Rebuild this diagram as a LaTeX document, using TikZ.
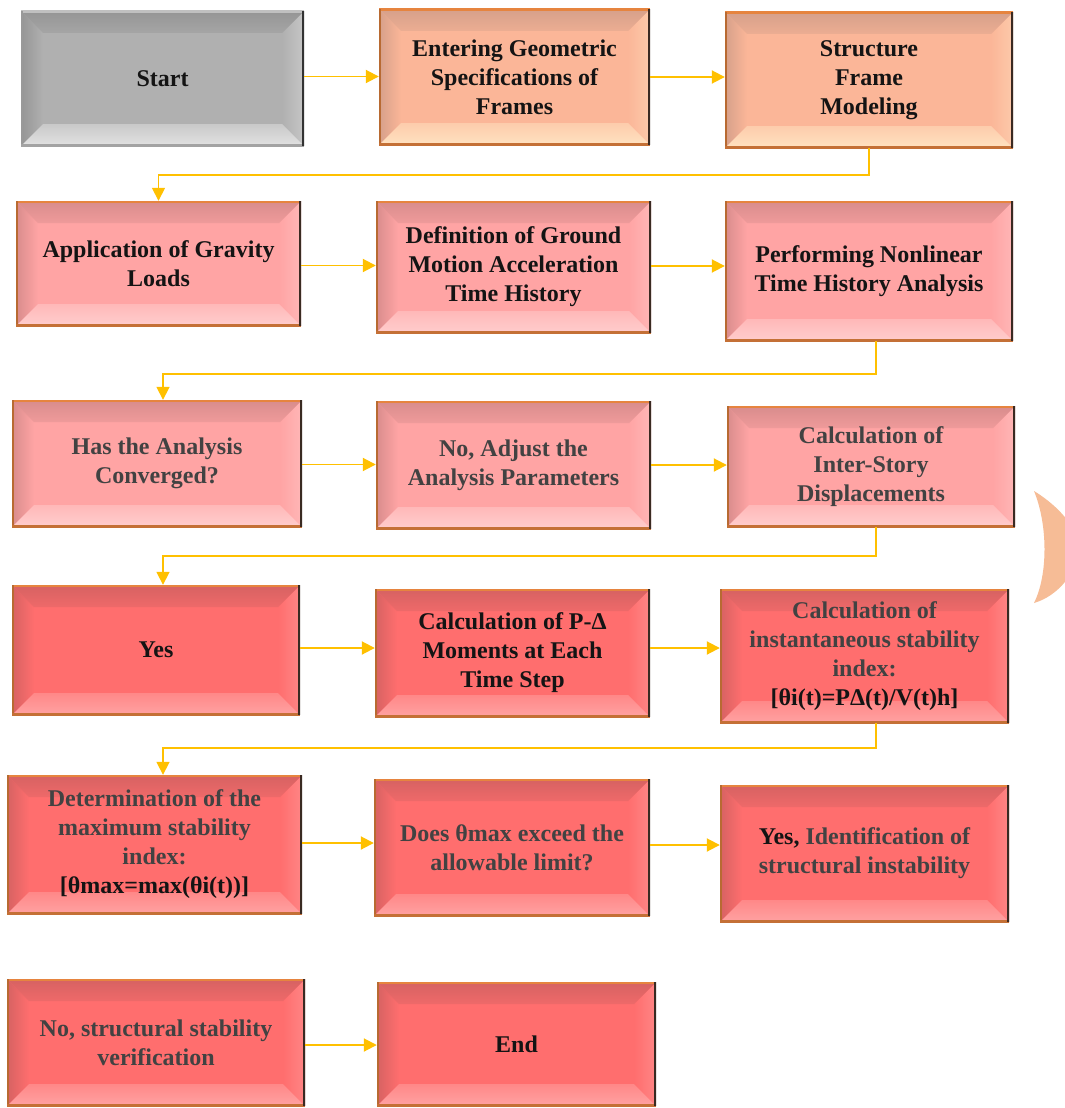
\documentclass[tikz,border=0pt]{standalone}
\usepackage{fontspec}
\setmainfont{Liberation Serif}
\usetikzlibrary{arrows.meta}
\definecolor{tb}{HTML}{141414}
\definecolor{tg}{HTML}{424242}
\definecolor{arrowc}{HTML}{FFC000}
\definecolor{crescent}{HTML}{F6BC96}
% gray
\definecolor{gBase}{HTML}{B0B0B0}
\definecolor{gHi}{HTML}{E2E2E2}
\definecolor{gSh}{HTML}{959595}
% salmon
\definecolor{sBase}{HTML}{FBB698}
\definecolor{sHi}{HTML}{FFE2C0}
\definecolor{sSh}{HTML}{D6A08A}
% pink
\definecolor{pBase}{HTML}{FFA4A4}
\definecolor{pHi}{HTML}{FFCDCD}
\definecolor{pSh}{HTML}{D88C8C}
% red
\definecolor{rBase}{HTML}{FF6E6E}
\definecolor{rHi}{HTML}{FFA2A2}
\definecolor{rSh}{HTML}{D66262}
% borders
\definecolor{bTop}{HTML}{E6843F}
\definecolor{bRight}{HTML}{3A2A22}
\def\bevw{22pt}
\tikzset{
  bevel/.style n args={5}{rectangle, inner sep=0pt, align=center,
    font=\fontsize{24}{29}\selectfont\bfseries, text=tb,
    path picture={
      \path (path picture bounding box.south west) coordinate (pSW)
            (path picture bounding box.north east) coordinate (pNE)
            (path picture bounding box.north west) coordinate (pNW)
            (path picture bounding box.south east) coordinate (pSE);
      \fill[#1] (pSW) rectangle (pNE);
      % left bevel
      \shade[left color=#3, right color=#1]
        (pNW) -- ([xshift=\bevw,yshift=-\bevw]pNW) -- ([xshift=\bevw,yshift=\bevw]pSW) -- (pSW) -- cycle;
      % right bevel
      \shade[left color=#1, right color=#1!55!#2]
        (pNE) -- ([xshift=-\bevw,yshift=-\bevw]pNE) -- ([xshift=-\bevw,yshift=\bevw]pSE) -- (pSE) -- cycle;
      % top bevel
      \shade[top color=#3, bottom color=#1!60!#3]
        (pNW) -- (pNE) -- ([xshift=-\bevw,yshift=-\bevw]pNE) -- ([xshift=\bevw,yshift=-\bevw]pNW) -- cycle;
      % bottom bevel
      \shade[top color=#1!50!#2, bottom color=#2]
        (pSW) -- (pSE) -- ([xshift=-\bevw,yshift=\bevw]pSE) -- ([xshift=\bevw,yshift=\bevw]pSW) -- cycle;
      % border
      \draw[#4, line width=4pt] (pNW) -- (pNE);
      \draw[#4!80!black, line width=4pt] (pNW) -- (pSW);
      \draw[#4!85!black, line width=4pt] (pSW) -- (pSE);
      \draw[#5, line width=5pt] (pNE) -- (pSE);
    }},
  grayb/.style={bevel={gBase}{gHi}{gSh}{gSh!60!white}{gray!40!black}},
  salb/.style={bevel={sBase}{sHi}{sSh}{bTop}{bRight}},
  pinkb/.style={bevel={pBase}{pHi}{pSh}{bTop}{bRight}},
  redb/.style={bevel={rBase}{rHi}{rSh}{bTop}{bRight}},
  gtext/.style={text=tg},
  arr/.style={draw=arrowc, line width=1.9pt, -{Triangle[length=13pt,width=13pt]}},
  conn/.style={draw=arrowc, line width=1.7pt, -{Triangle[length=13pt,width=13pt]}},
}
\begin{document}
\begin{tikzpicture}[x=1pt,y=-1pt]
\useasboundingbox[fill=white] (0,0) rectangle (1065,1108);

% crescent
\begin{scope}
  \clip (0,0) rectangle (1065,1108);
  \fill[crescent] (1034,491) .. controls (1048,525) and (1048,575) .. (1034,603)
     .. controls (1058,596) and (1078,572) .. (1078,548)
     .. controls (1078,524) and (1052,502) .. (1034,491) -- cycle;
\end{scope}

% row 1
\node[grayb, minimum width=283pt, minimum height=135pt] (start) at (162.5,78.5) {Start};
\node[salb, minimum width=271pt, minimum height=136pt] (enter) at (514.5,77) {Entering Geometric\\Specifications of\\Frames};
\node[salb, minimum width=288pt, minimum height=136pt] (struct) at (869,80) {Structure\\Frame\\Modeling};
% row 2
\node[pinkb, minimum width=285pt, minimum height=125pt] (appl) at (158.5,263.5) {Application of Gravity\\Loads};
\node[pinkb, minimum width=275pt, minimum height=132pt] (defn) at (513.5,267) {Definition of Ground\\Motion Acceleration\\Time History};
\node[pinkb, minimum width=288pt, minimum height=140pt] (perf) at (869,271) {Performing Nonlinear\\Time History Analysis};
% row 3
\node[pinkb, gtext, minimum width=290pt, minimum height=127pt] (has) at (157,463.5) {Has the Analysis\\Converged?};
\node[pinkb, gtext, minimum width=275pt, minimum height=128pt] (adj) at (513.5,465) {No, Adjust the\\Analysis Parameters};
\node[pinkb, gtext, minimum width=288pt, minimum height=121pt] (inter) at (871,466.5) {Calculation of\\Inter-Story\\Displacements};
% row 4
\node[redb, minimum width=288pt, minimum height=130pt] (yes) at (156,650) {Yes};
\node[redb, minimum width=275pt, minimum height=128pt] (pdelta) at (512.5,653) {Calculation of P-Δ\\Moments at Each\\Time Step};
\node[redb, gtext, minimum width=289pt, minimum height=134pt] (inst) at (864.5,656) {Calculation of\\instantaneous stability\\index:\\\textcolor{tb}{[θi(t)=PΔ(t)/V(t)h]}};
% row 5
\node[redb, gtext, minimum width=295pt, minimum height=139pt] (det) at (154.5,844.5) {Determination of the\\maximum stability\\index:\\\textcolor{tb}{[θmax=max(θi(t))]}};
\node[redb, gtext, minimum width=276pt, minimum height=137pt] (does) at (512,847.5) {Does θmax exceed the\\allowable limit?};
\node[redb, gtext, minimum width=289pt, minimum height=137pt] (ident) at (864.5,853.5) {\textcolor{tb}{Yes,} Identification of\\structural instability};
% row 6
\node[redb, gtext, minimum width=298pt, minimum height=127pt] (nostab) at (156,1042.5) {No, structural stability\\verification};
\node[redb, minimum width=279pt, minimum height=124pt] (endn) at (516.5,1044) {End};

% horizontal arrows
\draw[arr] ([yshift=2pt]start.east) -- ([yshift=2pt]start.east -| enter.west);
\draw[arr] (enter.east) -- (enter.east -| struct.west);
\draw[arr] ([yshift=-2pt]appl.east) -- ([yshift=-2pt]appl.east -| defn.west);
\draw[arr] ([yshift=1pt]defn.east) -- ([yshift=1pt]defn.east -| perf.west);
\draw[arr] ([yshift=-1pt]has.east) -- ([yshift=-1pt]has.east -| adj.west);
\draw[arr] (adj.east) -- (adj.east -| inter.west);
\draw[arr] ([yshift=2pt]yes.east) -- ([yshift=2pt]yes.east -| pdelta.west);
\draw[arr] ([yshift=5pt]pdelta.east) -- ([yshift=5pt]pdelta.east -| inst.west);
\draw[arr] ([yshift=1.5pt]det.east) -- ([yshift=1.5pt]det.east -| does.west);
\draw[arr] ([yshift=2.5pt]does.east) -- ([yshift=2.5pt]does.east -| ident.west);
\draw[arr] ([yshift=-2.5pt]nostab.east) -- ([yshift=-2.5pt]nostab.east -| endn.west);

% elbow connectors
\draw[conn] (struct.south) -- ++(0,27) -| (appl.north);
\draw[conn] ([xshift=7pt]perf.south) -- ++(0,33) -| ([xshift=6pt]has.north);
\draw[conn] ([xshift=5pt]inter.south) -- ++(0,29) -| ([xshift=7pt]yes.north);
\draw[conn] ([xshift=11.5pt]inst.south) -- ++(0,25) -| ([xshift=8.5pt]det.north);
\end{tikzpicture}
\end{document}
